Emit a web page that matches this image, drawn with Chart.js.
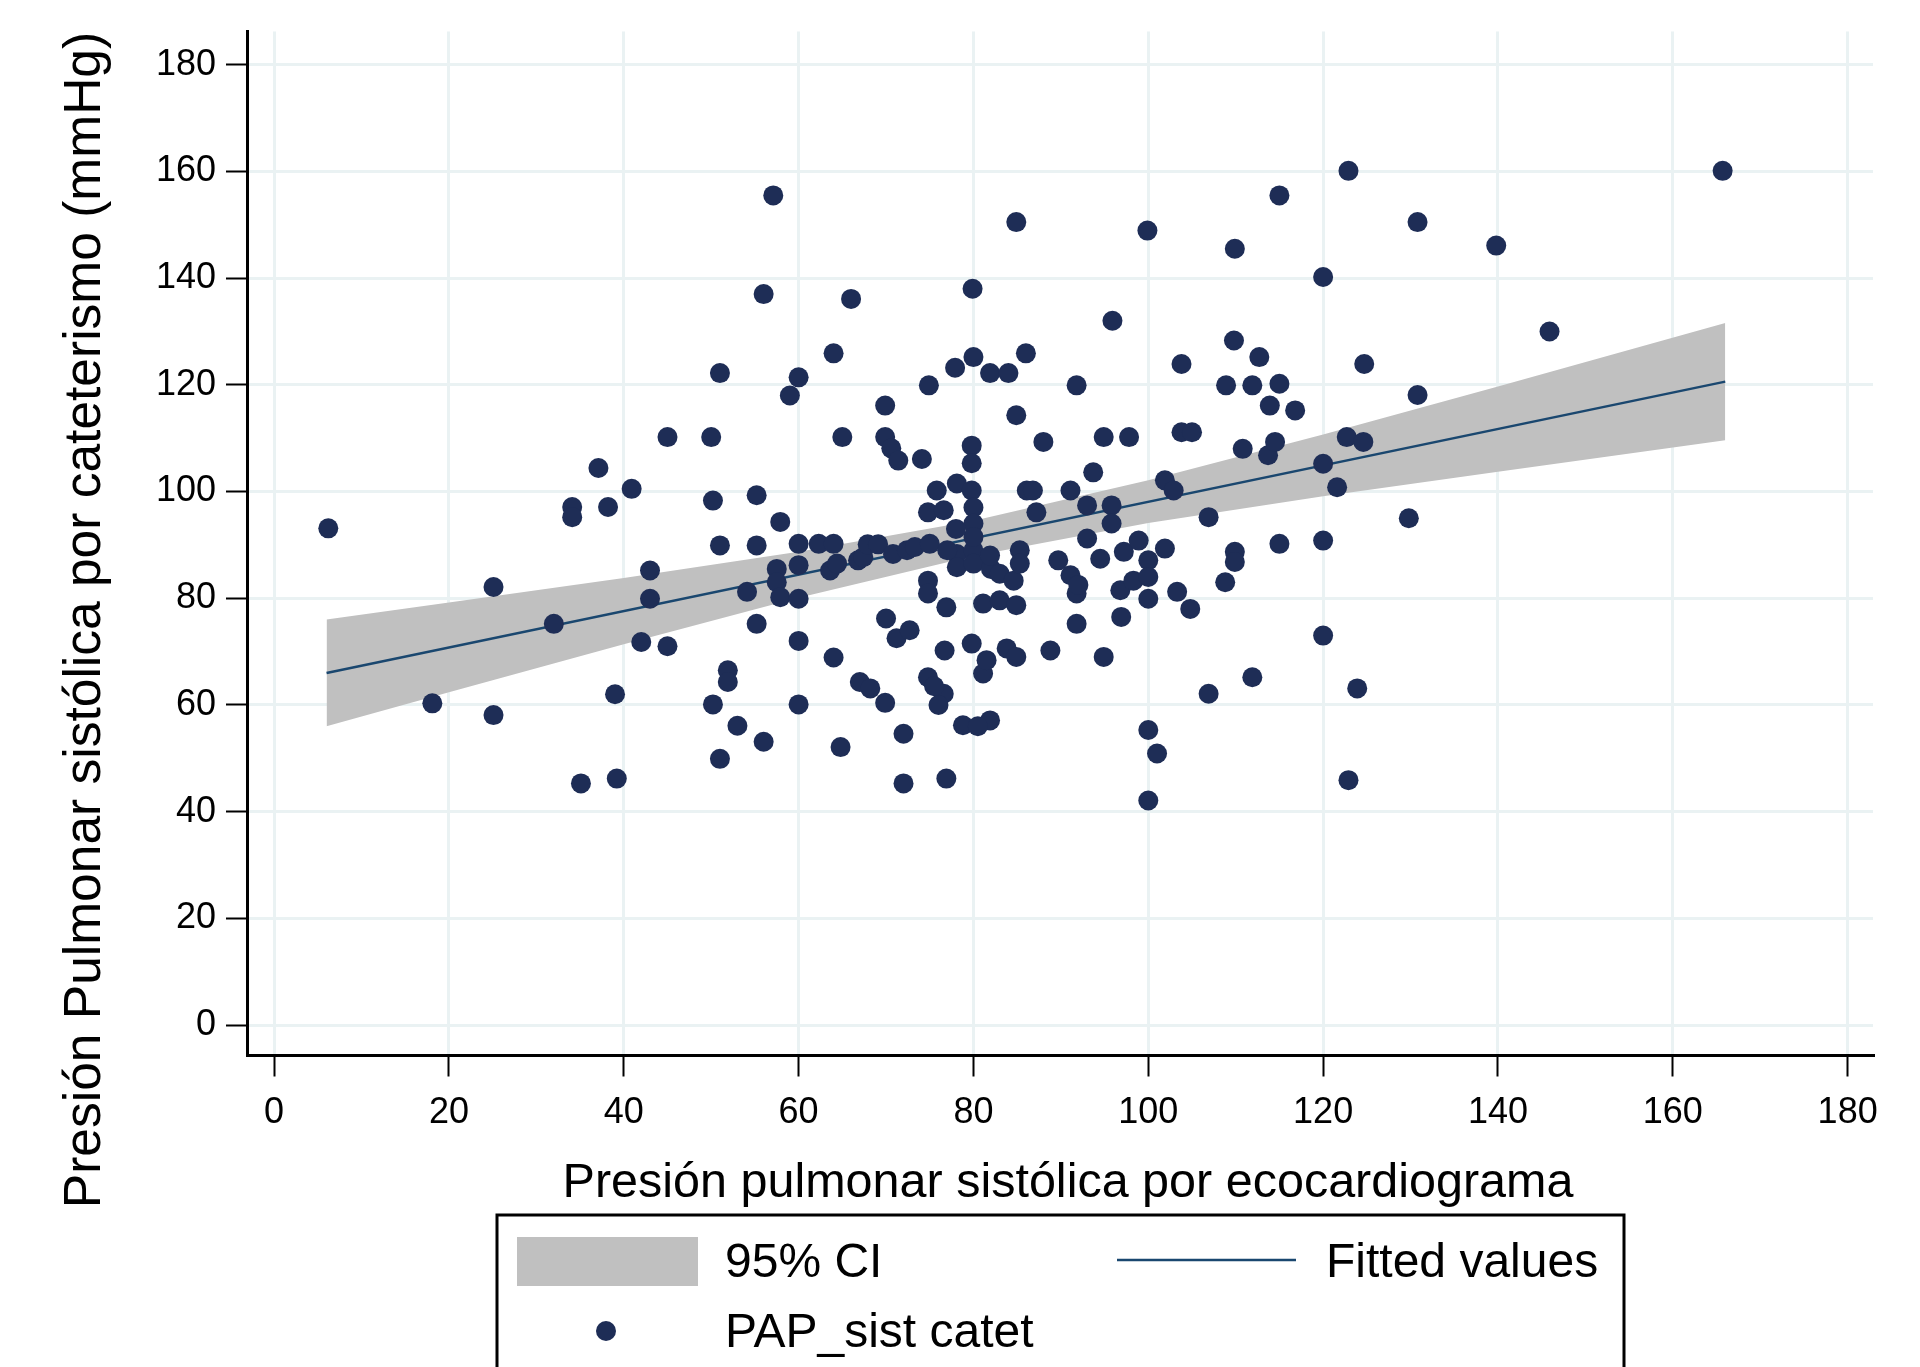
<!DOCTYPE html>
<html><head><meta charset="utf-8">
<script src="https://cdn.jsdelivr.net/npm/chart.js@4.4.1/dist/chart.umd.min.js"></script>
<style>html,body{margin:0;padding:0;background:#fff;}canvas{display:block;}</style>
</head><body>
<canvas id="c" width="1920" height="1367"></canvas>
<script>
const echoX = [6.2,18.1,25.1,25.1,32.0,34.1,34.1,35.1,37.1,38.2,39.0,39.2,40.9,42.0,43.0,43.0,45.0,45.0,
50.0,50.2,50.2,51.0,51.0,51.0,51.9,51.9,53.0,54.1,55.2,55.2,55.2,56.0,56.0,57.1,57.5,57.5,57.9,57.9,59.0,60.0,60.0,60.0,60.0,60.0,60.0,
62.3,63.6,64.4,64.0,64.0,64.0,64.8,65.0,66.0,66.8,67.4,67.0,67.9,68.2,69.1,69.9,69.9,70.0,69.9,
70.6,71.4,70.8,71.2,72.0,72.0,72.4,72.7,73.3,74.1,74.8,74.8,74.8,74.8,74.9,75.0,75.8,76.6,76.6,76.7,76.9,76.9,77.9,78.1,78.1,78.1,78.8,79.8,79.8,79.8,79.9,79.8,80.0,80.0,80.0,80.0,75.5,76.0,
80.0,80.0,78.0,77.0,82.0,
81.1,81.1,81.5,81.9,81.9,81.9,80.5,83.0,83.0,83.8,84.0,84.9,84.9,84.9,84.9,84.6,85.3,85.3,86.0,86.1,86.8,87.2,88.0,88.8,89.7,
91.1,91.1,91.8,91.8,91.8,92.0,93.0,93.0,93.7,94.9,94.5,94.9,95.8,95.8,95.9,96.8,96.9,97.2,97.8,98.3,98.9,99.9,100.0,100.0,100.0,100.0,100.0,
101.0,101.9,101.9,102.9,103.3,103.8,103.8,105.0,104.8,106.9,106.9,108.8,108.9,109.8,109.9,109.9,109.9,110.8,111.9,111.9,112.7,113.9,113.7,114.5,115.0,115.0,115.0,116.8,
120.0,120.0,120.0,120.0,121.6,122.7,122.9,122.9,123.9,124.6,124.7,129.8,130.8,130.8,139.8,145.9,165.7];
const cathY = [93.1,60.3,82.1,58.1,75.2,97.1,95.2,45.3,104.4,97.1,62.0,46.2,100.5,71.8,85.2,79.9,110.2,71.0,
110.2,98.3,60.1,122.2,89.9,49.9,66.5,64.3,56.1,81.2,99.3,89.9,75.2,137.0,53.1,155.5,85.5,83.0,94.3,80.2,118.0,121.4,90.2,86.2,79.9,72.0,60.1,
90.2,85.2,86.5,90.2,125.9,68.9,52.1,110.2,136.1,87.1,87.7,64.3,90.1,63.1,90.1,116.1,110.2,76.2,60.4,
108.1,105.8,88.3,72.5,54.6,45.3,89.0,74.0,89.6,106.1,96.1,83.3,80.9,65.2,119.9,90.2,100.2,96.5,62.1,70.2,78.3,46.2,123.2,101.5,88.3,85.8,56.2,100.2,108.6,105.3,138.0,71.5,125.2,97.0,94.0,89.0,63.5,60.0,
91.5,86.5,93.0,89.0,85.5,
79.0,65.9,68.4,88.0,122.2,57.1,56.0,84.6,79.6,70.6,122.2,150.5,114.3,78.7,69.0,83.3,89.0,86.5,125.9,100.2,100.2,96.1,109.3,70.2,87.1,
100.2,84.3,119.9,80.9,75.2,82.5,97.4,91.2,103.6,110.2,87.4,69.0,97.4,94.0,132.0,81.5,76.5,88.7,110.2,83.3,90.8,148.9,87.1,84.0,79.9,55.3,42.1,
50.9,102.1,89.3,100.2,81.2,123.9,111.1,111.1,78.0,95.2,62.1,83.0,119.9,128.3,145.5,88.7,86.8,108.0,119.9,65.2,125.2,116.1,106.8,109.3,155.5,120.2,90.2,115.2,
140.2,105.2,90.8,73.0,100.8,110.2,160.1,45.9,63.1,109.3,123.9,95.0,150.5,118.1,146.1,130.0,160.1];
const fitX = [6, 166];
const fitY = [66.0, 120.6];
const ciX = [6, 20, 40, 60, 80, 100, 120, 140, 166];
const ciLow = [56.0, 62.4, 71.4, 80.1, 87.9, 94.1, 99.1, 103.7, 109.6];
const ciHigh = [76.0, 79.2, 83.8, 88.7, 94.5, 102.1, 110.7, 119.7, 131.6];
const xTicks = [0, 20, 40, 60, 80, 100, 120, 140, 160, 180];
const yTicks = [0, 20, 40, 60, 80, 100, 120, 140, 160, 180];
const xTitle = 'Presión pulmonar sistólica por ecocardiograma';
const yTitle = 'Presión Pulmonar sistólica por cateterismo (mmHg)';
const legendLabels = ['95% CI', 'Fitted values', 'PAP_sist catet'];

const FONT = '"Liberation Sans", Arial, sans-serif';
const POINT_COLOR = '#1e2d56';
const FIT_COLOR = '#1a476f';
const BAND_COLOR = '#c0c0c0';

const overlay = {
  id: 'overlay',
  afterDraw(chart) {
    const ctx = chart.ctx;
    ctx.save();
    ctx.fillStyle = '#000';
    ctx.font = '48.5px ' + FONT;
    ctx.textAlign = 'center';
    ctx.textBaseline = 'alphabetic';
    ctx.fillText(xTitle, 1068, 1197);
    ctx.save();
    ctx.translate(100, 620);
    ctx.rotate(-Math.PI / 2);
    ctx.font = '51.5px ' + FONT;
    ctx.fillText(yTitle, 0, 0);
    ctx.restore();
    ctx.strokeStyle = '#000';
    ctx.lineWidth = 3;
    ctx.beginPath();
    ctx.moveTo(497, 1370); ctx.lineTo(497, 1215); ctx.lineTo(1624, 1215); ctx.lineTo(1624, 1370);
    ctx.stroke();
    ctx.fillStyle = BAND_COLOR;
    ctx.fillRect(517, 1237, 181, 49);
    ctx.strokeStyle = FIT_COLOR;
    ctx.lineWidth = 2.5;
    ctx.beginPath(); ctx.moveTo(1117, 1260); ctx.lineTo(1296, 1260); ctx.stroke();
    ctx.fillStyle = POINT_COLOR;
    ctx.beginPath(); ctx.arc(606, 1331, 10, 0, Math.PI * 2); ctx.fill();
    ctx.fillStyle = '#000';
    ctx.font = '48px ' + FONT;
    ctx.textAlign = 'left';
    ctx.fillText(legendLabels[0], 725, 1277);
    ctx.fillText(legendLabels[1], 1326, 1277);
    ctx.fillText(legendLabels[2], 725, 1347);
    ctx.restore();
  }
};

new Chart(document.getElementById('c'), {
  type: 'scatter',
  data: {
    datasets: [
      { label: legendLabels[2], data: echoX.map((x, i) => ({ x, y: cathY[i] })),
        pointRadius: 10, pointHoverRadius: 10, pointBackgroundColor: POINT_COLOR, pointBorderWidth: 0, pointBorderColor: POINT_COLOR },
      { type: 'line', label: legendLabels[1], data: fitX.map((x, i) => ({ x, y: fitY[i] })),
        borderColor: FIT_COLOR, borderWidth: 2.5, pointRadius: 0, fill: false, tension: 0 },
      { type: 'line', label: legendLabels[0], data: ciX.map((x, i) => ({ x, y: ciHigh[i] })),
        borderWidth: 0, borderColor: 'rgba(0,0,0,0)', backgroundColor: BAND_COLOR, pointRadius: 0, fill: '+1', tension: 0 },
      { type: 'line', label: 'ci-low', data: ciX.map((x, i) => ({ x, y: ciLow[i] })),
        borderWidth: 0, borderColor: 'rgba(0,0,0,0)', pointRadius: 0, fill: false, tension: 0 }
    ]
  },
  options: {
    responsive: false,
    animation: false,
    devicePixelRatio: 1,
    layout: { padding: { left: 0, right: 47, top: 31, bottom: 0 } },
    plugins: { legend: { display: false }, tooltip: { enabled: false } },
    scales: {
      x: {
        type: 'linear', min: -3.1, max: 182.9,
        afterBuildTicks: s => { s.ticks = xTicks.map(v => ({ value: v })); },
        afterFit: s => { s.height = 311.5; },
        ticks: { font: { family: FONT, size: 36 }, color: '#000', padding: 15, maxRotation: 0, autoSkip: false },
        grid: { color: '#eaf2f3', lineWidth: 3, tickColor: '#000', tickWidth: 2, tickLength: 21 },
        border: { color: '#000', width: 3 }
      },
      y: {
        type: 'linear', min: -5.7, max: 186.2,
        afterBuildTicks: s => { s.ticks = yTicks.map(v => ({ value: v })); },
        afterFit: s => { s.width = 247; },
        ticks: { font: { family: FONT, size: 36 }, color: '#000', padding: 10, autoSkip: false },
        grid: { color: '#eaf2f3', lineWidth: 3, tickColor: '#000', tickWidth: 2, tickLength: 21 },
        border: { color: '#000', width: 3 }
      }
    }
  },
  plugins: [overlay]
});
</script>
</body></html>
